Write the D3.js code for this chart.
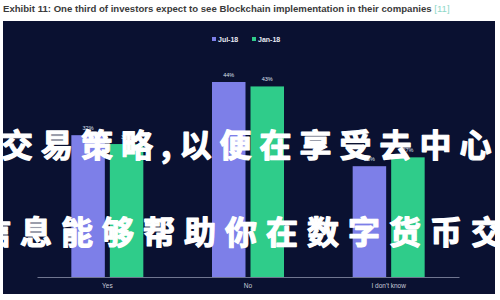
<!DOCTYPE html>
<html>
<head>
<meta charset="utf-8">
<script src="https://cdn.jsdelivr.net/npm/d3@7"></script>
<style>
  body { margin: 0; background: #fff; }
  svg { display: block; }
</style>
</head>
<body>
<div id="graphicContainer"></div>
<script>
// values
var categories = ["Yes", "No", "I don't know"]
var seriesNames = ["Jul-18", "Jan-18"]
var jul18 = [32, 44, 25]
var jan18 = [30, 43, 27]
var titleText = "Exhibit 11: One third of investors expect to see Blockchain implementation in their companies"
var refText = "[11]"
var overlayLines = ["交易策略,以便在享受去中心", "信息能够帮助你在数字货币交"]

var width = 500, height = 300
var panel = {x: 3, y: 21, w: 492, h: 273}
var margin = {left: 37, right: 41, top: 0, bottom: 0}
var baseY = 277

var colors = d3.scaleOrdinal().domain(seriesNames).range(["#7d7fe8", "#2fcc8a"])

var svg = d3.select("#graphicContainer").append("svg")
    .attr("width", width)
    .attr("height", height)

svg.append("text")
    .attr("x", 3)
    .attr("y", 12)
    .attr("font-family", "Liberation Sans, Arial, sans-serif")
    .attr("font-weight", "bold")
    .attr("font-size", 9.6)
    .attr("fill", "#3a3a3a")
    .text(titleText)
  .append("tspan")
    .attr("fill", "#8fd8c8")
    .attr("font-weight", "normal")
    .text(" " + refText)

svg.append("rect")
    .attr("x", panel.x).attr("y", panel.y)
    .attr("width", panel.w).attr("height", panel.h)
    .attr("fill", "#0a1131")

// legend
var legend = svg.append("g").attr("transform", "translate(212,40)")
seriesNames.forEach(function(s, i) {
    var g = legend.append("g").attr("transform", "translate(" + (i * 40) + ",0)")
    g.append("rect").attr("x", 0).attr("y", -3).attr("width", 4).attr("height", 4)
        .attr("fill", colors(s))
    g.append("text").attr("x", 6).attr("y", 1.5)
        .attr("font-family", "Liberation Sans, Arial, sans-serif")
        .attr("font-size", 7).attr("font-weight", "bold")
        .attr("fill", "#e8eaf4").text(s)
})

var x0 = d3.scaleBand().domain(categories).range([margin.left, width - margin.right])
var x1 = d3.scaleBand().domain(seriesNames).range([x0.bandwidth() / 2 - 36, x0.bandwidth() / 2 + 36]).paddingInner(0.13)
var y = d3.scaleLinear().domain([0, 44]).range([baseY, 82])

var rows = categories.map(function(c, i) {
    return {cat: c, vals: [{key: "Jul-18", v: jul18[i]}, {key: "Jan-18", v: jan18[i]}]}
})

var groups = svg.selectAll(".grp").data(rows).enter().append("g")
    .attr("transform", function(d) { return "translate(" + x0(d.cat) + ",0)" })

groups.selectAll("rect").data(function(d) { return d.vals }).enter().append("rect")
    .attr("x", function(d) { return x1(d.key) })
    .attr("y", function(d) { return y(d.v) })
    .attr("width", x1.bandwidth())
    .attr("height", function(d) { return baseY - y(d.v) })
    .attr("fill", function(d) { return colors(d.key) })

groups.selectAll(".lbl").data(function(d) { return d.vals }).enter().append("text")
    .attr("x", function(d) { return x1(d.key) + x1.bandwidth() / 2 })
    .attr("y", function(d) { return y(d.v) - 5 })
    .attr("text-anchor", "middle")
    .attr("font-family", "Liberation Sans, Arial, sans-serif")
    .attr("font-size", 5.5).attr("fill", "#dfe2ee")
    .text(function(d) { return d.v + "%" })

// x axis
var axis = svg.append("g").attr("transform", "translate(0," + baseY + ")")
    .call(d3.axisBottom(x0).tickSize(0).tickPadding(6))
axis.select(".domain").attr("stroke", "#8a90a8").attr("stroke-width", 0.8)
axis.selectAll("text")
    .attr("font-family", "Liberation Sans, Arial, sans-serif")
    .attr("font-size", 6.5).attr("fill", "#c8cbd8")

// overlay text (brush style in the original, thickened here with a stroke)
var ov = svg.append("g")
    .attr("font-family", "Noto Sans CJK SC")
    .attr("font-weight", "bold")
    .attr("font-size", 32)
    .attr("fill", "#ffffff")
    .attr("stroke", "#ffffff")
    .attr("stroke-width", 1.2)
    .attr("stroke-linejoin", "round")
ov.append("text").attr("x", 1).attr("y", 157).attr("letter-spacing", 8).text(overlayLines[0])
ov.append("text").attr("x", -21).attr("y", 244).attr("letter-spacing", 9).text(overlayLines[1])
</script>
</body>
</html>
